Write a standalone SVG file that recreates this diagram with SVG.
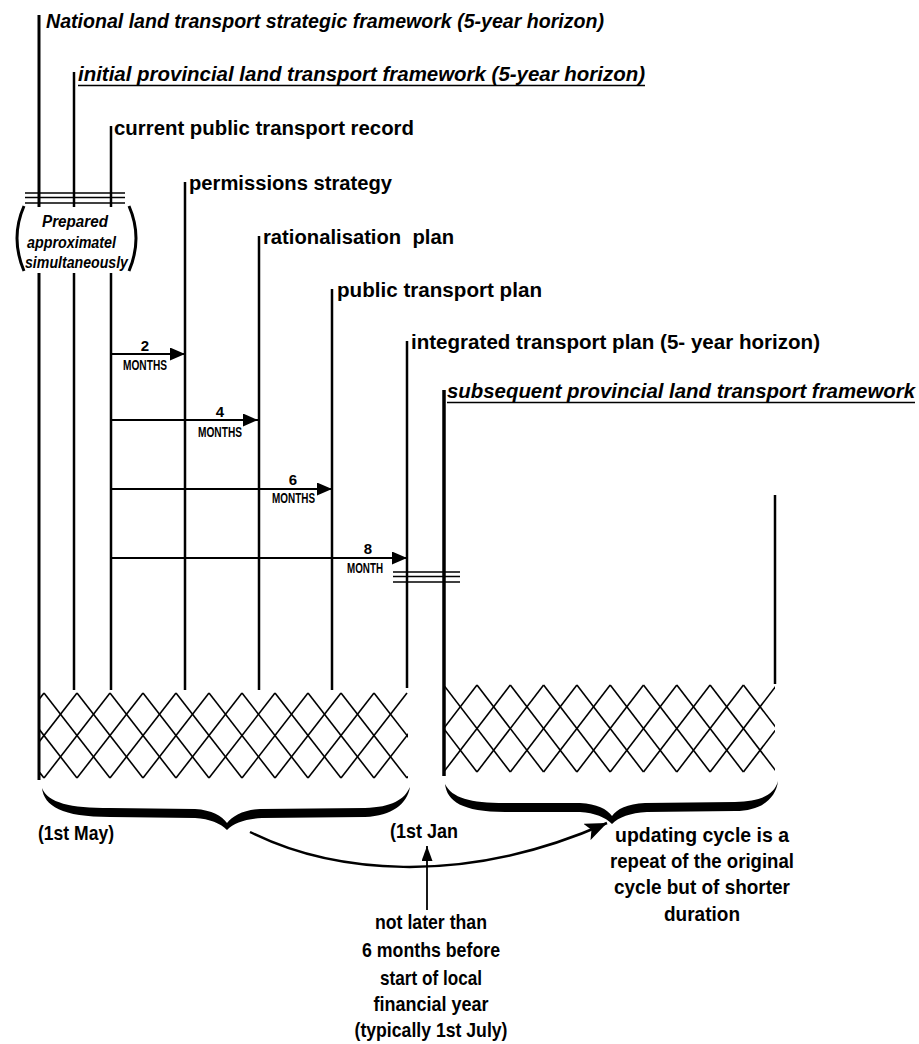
<svg xmlns="http://www.w3.org/2000/svg" width="919" height="1044" viewBox="0 0 919 1044">
<style>
.lbl{font-family:"Liberation Sans",Arial,sans-serif;font-weight:bold;font-size:20px;fill:#000}
.it{font-style:italic}
.mo{font-family:"Liberation Sans",Arial,sans-serif;font-weight:bold;font-size:15px;fill:#000}
.num{font-family:"Liberation Sans",Arial,sans-serif;font-weight:bold;font-size:15px;fill:#000;text-anchor:middle}
.note{font-family:"Liberation Sans",Arial,sans-serif;font-weight:bold;font-size:21px;fill:#000}
.ctr{text-anchor:middle}
.prep{font-family:"Liberation Sans",Arial,sans-serif;font-style:italic;font-weight:bold;font-size:16px;fill:#000}
.v{stroke:#000;stroke-width:2.5;fill:none}
.h{stroke:#000;stroke-width:1.5;fill:none}
.ul{stroke:#000;stroke-width:1.5}
.arr{stroke:#000;stroke-width:2;fill:none;marker-end:url(#ah)}
.hatch line{stroke:#000;stroke-width:1.6}
</style>
<defs>
<marker id="ah" markerUnits="userSpaceOnUse" markerWidth="15" markerHeight="13" refX="15" refY="6.5" orient="auto"><path d="M0,0 L15,6.5 L0,13 Z" fill="#000"/></marker>
<marker id="ahBig" markerUnits="userSpaceOnUse" markerWidth="22" markerHeight="18" refX="22" refY="9" orient="auto"><path d="M0,0 L22,9 L0,18 L5,9 Z" fill="#000"/></marker>
<marker id="ahSm" markerUnits="userSpaceOnUse" markerWidth="15" markerHeight="11" refX="15" refY="5.5" orient="auto"><path d="M0,0 L15,5.5 L0,11 Z" fill="#000"/></marker>
<clipPath id="clipL"><rect x="40" y="680" width="368" height="105"/></clipPath>
<clipPath id="clipR"><rect x="445" y="675" width="330" height="105"/></clipPath>
</defs>

<g id="node-national">
<line class="v" x1="39" y1="15" x2="39" y2="207" style="stroke-width:3"/>
<line class="v" x1="39" y1="273" x2="39" y2="780" style="stroke-width:3"/>
<text class="lbl it" x="46" y="28" textLength="558" lengthAdjust="spacingAndGlyphs">National land transport strategic framework (5-year horizon)</text>
</g>
<g id="node-initial">
<line class="v" x1="74" y1="72" x2="74" y2="207"/>
<line class="v" x1="74" y1="273" x2="74" y2="690"/>
<text class="lbl it" x="78" y="81" textLength="567" lengthAdjust="spacingAndGlyphs">initial provincial land transport framework (5-year horizon)</text>
<line class="ul" x1="78" y1="85.5" x2="645" y2="85.5"/>
</g>
<g id="node-record">
<line class="v" x1="111" y1="126" x2="111" y2="207"/>
<line class="v" x1="111" y1="273" x2="111" y2="690"/>
<text class="lbl" x="114" y="135" textLength="300" lengthAdjust="spacingAndGlyphs">current public transport record</text>
</g>
<g id="node-prepared">
<line class="h" x1="25" y1="193" x2="125" y2="193"/>
<line class="h" x1="25" y1="197.5" x2="125" y2="197.5"/>
<line class="h" x1="25" y1="203" x2="125" y2="203"/>
<path d="M24,206 Q10,238 24,271" stroke="#000" stroke-width="3" fill="none"/>
<path d="M129,206 Q143,238 129,271" stroke="#000" stroke-width="3" fill="none"/>
<text class="prep" x="42" y="227" textLength="66" lengthAdjust="spacingAndGlyphs">Prepared</text>
<text class="prep" x="27" y="248" textLength="89" lengthAdjust="spacingAndGlyphs">approximatel</text>
<text class="prep" x="25" y="268" textLength="103" lengthAdjust="spacingAndGlyphs">simultaneously</text>
</g>
<g id="node-permissions">
<line class="v" x1="185" y1="182" x2="185" y2="690"/>
<text class="lbl" x="189" y="190" textLength="203" lengthAdjust="spacingAndGlyphs">permissions strategy</text>
</g>
<g id="node-rationalisation">
<line class="v" x1="259" y1="236" x2="259" y2="690"/>
<text class="lbl" x="263" y="244" textLength="191" lengthAdjust="spacingAndGlyphs" xml:space="preserve">rationalisation  plan</text>
</g>
<g id="node-ptp">
<line class="v" x1="332" y1="289" x2="332" y2="690"/>
<text class="lbl" x="337" y="297" textLength="205" lengthAdjust="spacingAndGlyphs">public transport plan</text>
</g>
<g id="node-itp">
<line class="v" x1="407" y1="341" x2="407" y2="688"/>
<text class="lbl" x="411" y="349" textLength="409" lengthAdjust="spacingAndGlyphs">integrated transport plan (5- year horizon)</text>
<line class="h" x1="393" y1="572" x2="460" y2="572"/>
<line class="h" x1="393" y1="576.5" x2="460" y2="576.5"/>
<line class="h" x1="393" y1="582" x2="460" y2="582"/>
</g>
<g id="node-subsequent">
<line class="v" x1="444" y1="390" x2="444" y2="776" style="stroke-width:3.5"/>
<text class="lbl it" x="447" y="398" textLength="468" lengthAdjust="spacingAndGlyphs">subsequent provincial land transport framework</text>
<line class="ul" x1="447" y1="402.5" x2="915" y2="402.5"/>
</g>
<g id="node-end">
<line class="v" x1="775" y1="495" x2="775" y2="684"/>
</g>

<g id="hatch-left" class="hatch" clip-path="url(#clipL)">
<line x1="-22" y1="693" x2="44" y2="778"/><line x1="11" y1="693" x2="77" y2="778"/><line x1="44" y1="693" x2="110" y2="778"/><line x1="77" y1="693" x2="143" y2="778"/><line x1="110" y1="693" x2="176" y2="778"/><line x1="143" y1="693" x2="209" y2="778"/><line x1="176" y1="693" x2="242" y2="778"/><line x1="209" y1="693" x2="275" y2="778"/><line x1="242" y1="693" x2="308" y2="778"/><line x1="275" y1="693" x2="341" y2="778"/><line x1="308" y1="693" x2="374" y2="778"/><line x1="341" y1="693" x2="407" y2="778"/><line x1="374" y1="693" x2="440" y2="778"/>
<line x1="44" y1="693" x2="-22" y2="778"/><line x1="77" y1="693" x2="11" y2="778"/><line x1="110" y1="693" x2="44" y2="778"/><line x1="143" y1="693" x2="77" y2="778"/><line x1="176" y1="693" x2="110" y2="778"/><line x1="209" y1="693" x2="143" y2="778"/><line x1="242" y1="693" x2="176" y2="778"/><line x1="275" y1="693" x2="209" y2="778"/><line x1="308" y1="693" x2="242" y2="778"/><line x1="341" y1="693" x2="275" y2="778"/><line x1="374" y1="693" x2="308" y2="778"/><line x1="407" y1="693" x2="341" y2="778"/><line x1="440" y1="693" x2="374" y2="778"/><line x1="473" y1="693" x2="407" y2="778"/>
</g>
<g id="hatch-right" class="hatch" clip-path="url(#clipR)">
<line x1="410.4" y1="685" x2="477" y2="772"/><line x1="443.7" y1="685" x2="510.3" y2="772"/><line x1="477" y1="685" x2="543.6" y2="772"/><line x1="510.3" y1="685" x2="576.9" y2="772"/><line x1="543.6" y1="685" x2="610.2" y2="772"/><line x1="576.9" y1="685" x2="643.5" y2="772"/><line x1="610.2" y1="685" x2="676.8" y2="772"/><line x1="643.5" y1="685" x2="710.1" y2="772"/><line x1="676.8" y1="685" x2="743.4" y2="772"/><line x1="710.1" y1="685" x2="776.7" y2="772"/><line x1="743.4" y1="685" x2="810" y2="772"/>
<line x1="477" y1="685" x2="410.4" y2="772"/><line x1="510.3" y1="685" x2="443.7" y2="772"/><line x1="543.6" y1="685" x2="477" y2="772"/><line x1="576.9" y1="685" x2="510.3" y2="772"/><line x1="610.2" y1="685" x2="543.6" y2="772"/><line x1="643.5" y1="685" x2="576.9" y2="772"/><line x1="676.8" y1="685" x2="610.2" y2="772"/><line x1="710.1" y1="685" x2="643.5" y2="772"/><line x1="743.4" y1="685" x2="676.8" y2="772"/><line x1="776.7" y1="685" x2="710.1" y2="772"/><line x1="810" y1="685" x2="743.4" y2="772"/>
</g>

<g id="brace-left">
<path fill="#000" d="M42,788 C48,803 70,808 110,808 L195,809 C212,810 222,816 227,823 C233,816 243,810 260,809 L365,808 C392,807 404,800 410,787 C407,804 392,816 365,817 L262,818 C245,819 234,823 227,830 C220,823 210,819 195,818 L110,817 C62,817 44,806 42,788 Z"/>
</g>
<g id="brace-right">
<path fill="#000" d="M445,784 C452,798 470,803 505,803 L580,803 C597,804 607,809 612,816 C617,809 627,804 645,803 L735,802 C762,801 774,795 778,781 C776,798 762,811 735,811 L647,812 C630,813 619,817 612,824 C605,817 595,813 580,812 L505,812 C462,812 447,801 445,784 Z"/>
</g>

<g id="connectors">
<line class="arr" x1="112" y1="354" x2="185" y2="354"/>
<line class="arr" x1="112" y1="420" x2="258" y2="420"/>
<line class="arr" x1="112" y1="489" x2="332" y2="489"/>
<line class="arr" x1="112" y1="558" x2="407" y2="558"/>
<path d="M250,832 C330,872 460,888 607,823" stroke="#000" stroke-width="2.5" fill="none" marker-end="url(#ahBig)"/>
<line x1="427" y1="910" x2="427" y2="846" stroke="#000" stroke-width="1.8" marker-end="url(#ahSm)"/>
</g>

<g id="labels-months">
<text class="num" x="145" y="351">2</text>
<text class="mo" x="123" y="370" textLength="44" lengthAdjust="spacingAndGlyphs">MONTHS</text>
<text class="num" x="220" y="417">4</text>
<text class="mo" x="198" y="437" textLength="44" lengthAdjust="spacingAndGlyphs">MONTHS</text>
<text class="num" x="293" y="485">6</text>
<text class="mo" x="272" y="503" textLength="43" lengthAdjust="spacingAndGlyphs">MONTHS</text>
<text class="num" x="368" y="554">8</text>
<text class="mo" x="347" y="573" textLength="36" lengthAdjust="spacingAndGlyphs">MONTH</text>
</g>

<g id="node-may">
<text class="note" x="38" y="840" textLength="76" lengthAdjust="spacingAndGlyphs">(1st May)</text>
</g>
<g id="node-jan">
<text class="note" x="390" y="838" textLength="68" lengthAdjust="spacingAndGlyphs">(1st Jan</text>
</g>
<g id="node-deadline">
<text class="note ctr" x="431" y="929" textLength="112" lengthAdjust="spacingAndGlyphs">not later than</text>
<text class="note ctr" x="431" y="957" textLength="138" lengthAdjust="spacingAndGlyphs">6 months before</text>
<text class="note ctr" x="431" y="985" textLength="102" lengthAdjust="spacingAndGlyphs">start of local</text>
<text class="note ctr" x="431" y="1011" textLength="115" lengthAdjust="spacingAndGlyphs">financial year</text>
<text class="note ctr" x="431" y="1037" textLength="153" lengthAdjust="spacingAndGlyphs">(typically 1st July)</text>
</g>
<g id="node-updating">
<text class="note ctr" x="702" y="842" textLength="174" lengthAdjust="spacingAndGlyphs">updating cycle is a</text>
<text class="note ctr" x="702" y="868" textLength="184" lengthAdjust="spacingAndGlyphs">repeat of the original</text>
<text class="note ctr" x="702" y="894" textLength="176" lengthAdjust="spacingAndGlyphs">cycle but of shorter</text>
<text class="note ctr" x="702" y="921" textLength="76" lengthAdjust="spacingAndGlyphs">duration</text>
</g>
</svg>
